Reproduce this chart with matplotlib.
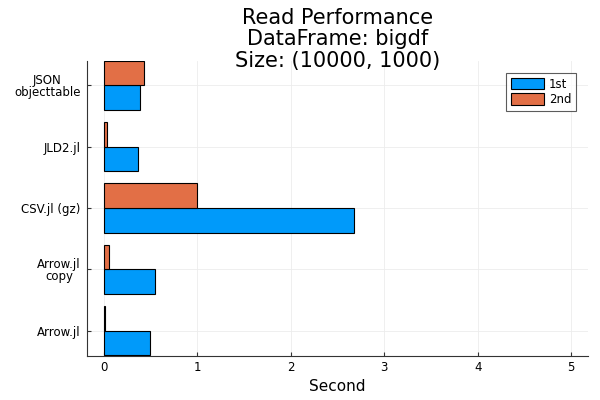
import numpy as np
import matplotlib.pyplot as plt

categories = ['Arrow.jl', 'Arrow.jl\ncopy', 'CSV.jl (gz)', 'JLD2.jl', 'JSON\nobjecttable']
first_read = [0.49, 0.55, 2.68, 0.365, 0.39]
second_read = [0.01, 0.06, 1.0, 0.03, 0.43]
xticks = [0, 1, 2, 3, 4, 5]

fig = plt.figure(figsize=(6, 4), dpi=100)
ax = fig.add_axes([0.145, 0.11, 0.835, 0.737])

y = np.arange(len(categories))
h = 0.4
ax.barh(y - h / 2, first_read, height=h, color='#009AFA', edgecolor='black', linewidth=0.8, label='1st', zorder=3)
ax.barh(y + h / 2, second_read, height=h, color='#E26F46', edgecolor='black', linewidth=0.8, label='2nd', zorder=3)

ax.set_yticks(y)
ax.set_yticklabels(categories, fontsize=8.5, linespacing=0.95, multialignment='center')
ax.set_xticks(xticks)
ax.set_xticklabels([str(t) for t in xticks], fontsize=8.5)
ax.set_xlim(-0.18, 5.18)
ax.set_ylim(-0.41, 4.39)
ax.set_xlabel('Second', fontsize=11)

# title block sits partly over the plot area, like Plots.jl
fig.text(0.5625, 1 - 8 / 400, 'Read Performance\nDataFrame: bigdf\nSize: (10000, 1000)',
         ha='center', va='top', fontsize=15, linespacing=1.08)

ax.grid(True, color='#ececec', linewidth=0.6, zorder=0)
ax.spines['top'].set_visible(False)
ax.spines['right'].set_visible(False)
ax.spines['left'].set_color('#333333')
ax.spines['bottom'].set_color('#333333')
ax.tick_params(direction='in', length=3, color='#333333')
ax.tick_params(axis='y', pad=4.5)

leg = ax.legend(loc='upper right', fontsize=8.5, fancybox=False, edgecolor='#333333',
                handlelength=2.8, handleheight=1.1, borderaxespad=1.0, handletextpad=0.4,
                labelspacing=0.2)
leg.get_frame().set_linewidth(0.8)

plt.savefig('out.png', dpi=100)
